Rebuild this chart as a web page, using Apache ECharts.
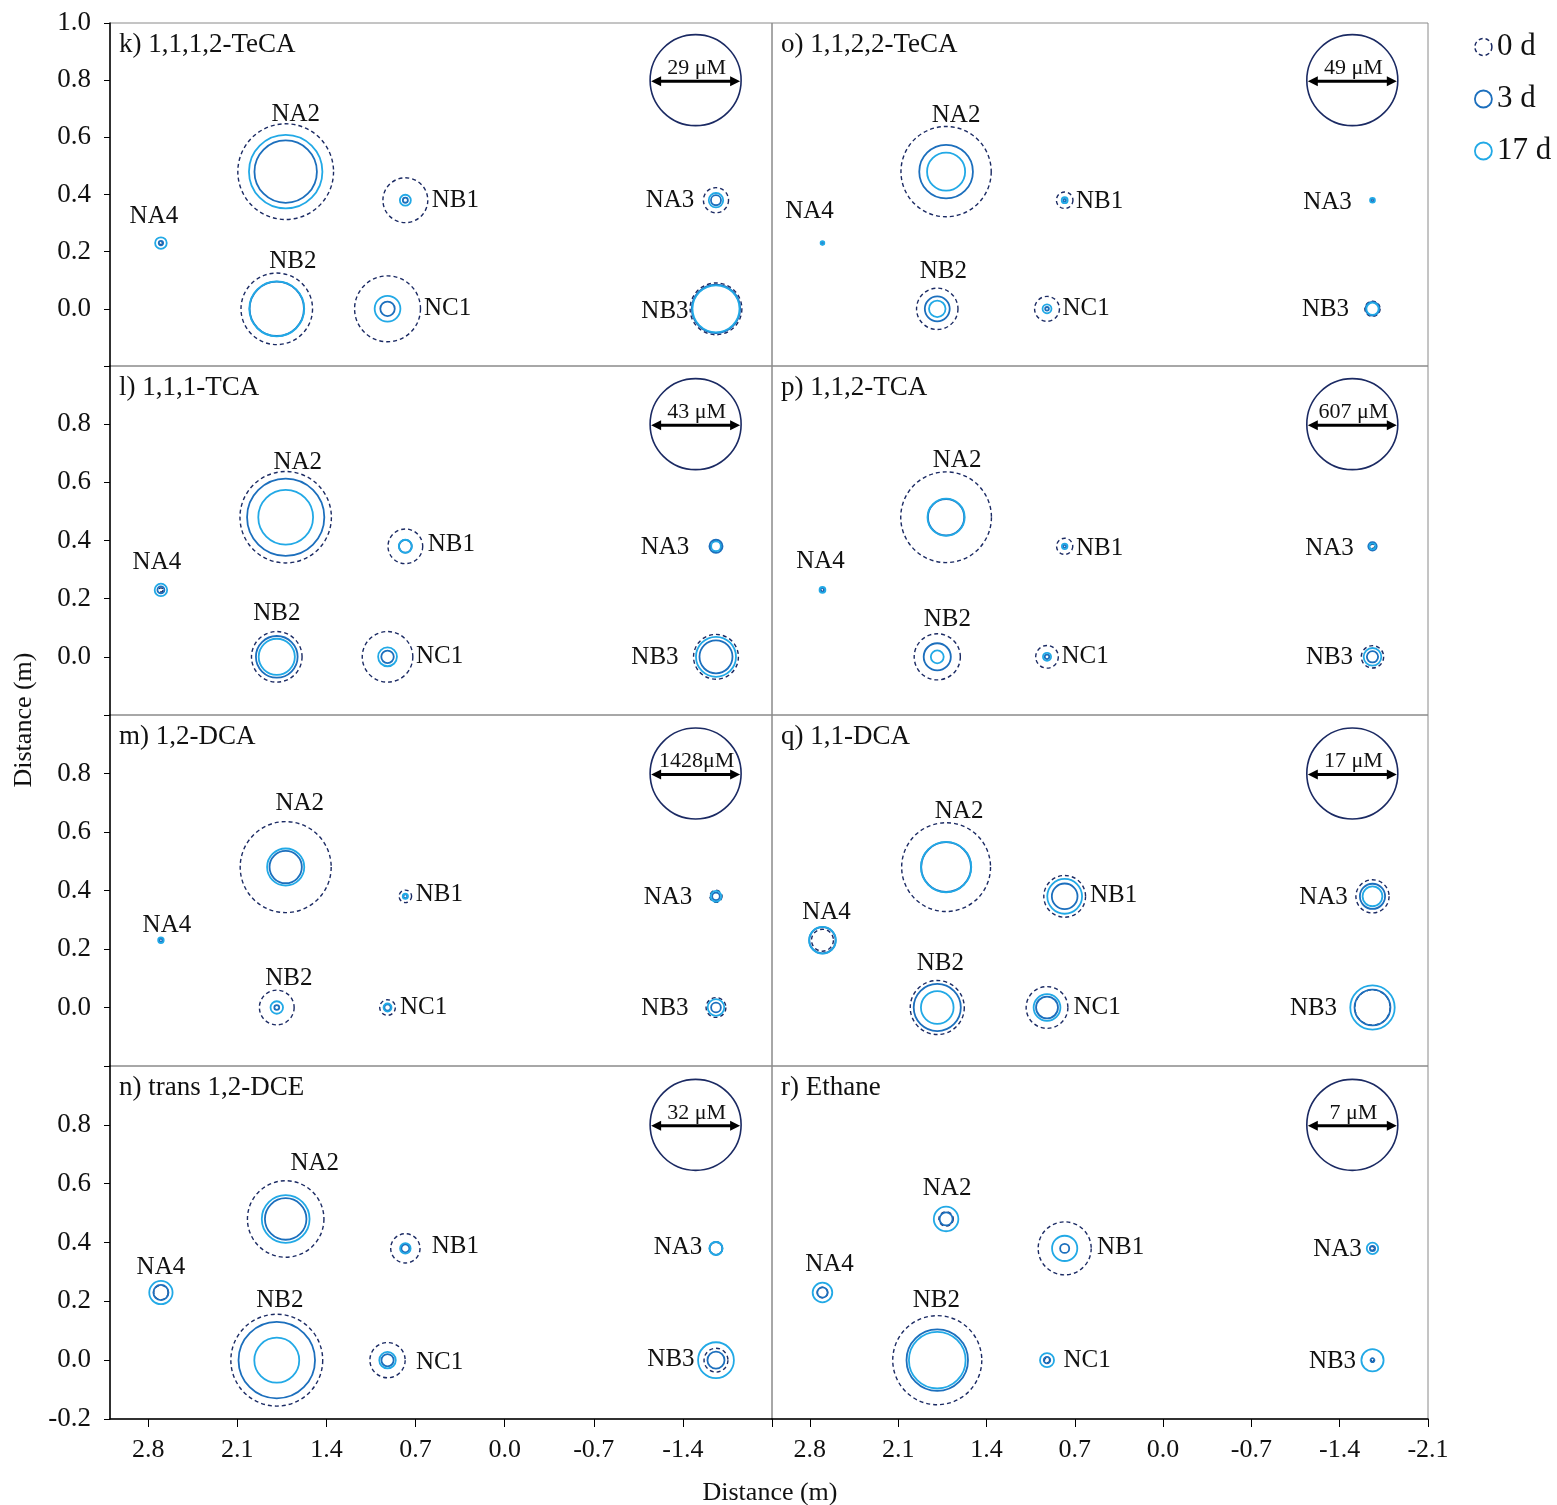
<!DOCTYPE html>
<html>
<head>
<meta charset="utf-8">
<script src="https://cdn.jsdelivr.net/npm/echarts@6/dist/echarts.min.js"></script>
<style>
  html, body { margin: 0; padding: 0; background: #fff; }
  #chart { width: 1557px; height: 1505px; }
</style>
</head>
<body>
<div id="chart"></div>
<script>
// Sampling wells and their plan-view coordinates (m)
const sites = ['NA4', 'NA2', 'NB1', 'NB2', 'NC1', 'NA3', 'NB3'];
const siteX = [2.70, 1.72, 0.78, 1.79, 0.92, -1.66, -1.66];
const siteY = [0.23, 0.48, 0.38, 0.00, 0.00, 0.38, 0.00];

const days = ['0 d', '3 d', '17 d'];
const panelTitles = ['k) 1,1,1,2-TeCA', 'o) 1,1,2,2-TeCA', 'l) 1,1,1-TCA', 'p) 1,1,2-TCA',
                     'm) 1,2-DCA', 'q) 1,1-DCA', 'n) trans 1,2-DCE', 'r) Ethane'];
// Reference bubble concentration per panel (μM)
const scaleConc = [29, 49, 43, 607, 1428, 17, 32, 7];
const scaleAt = [-1.5, 0.8];

const xTicks = [2.8, 2.1, 1.4, 0.7, 0.0, -0.7, -1.4, -2.1];

// Concentrations (μM), site order: NA4, NA2, NB1, NB2, NC1, NA3, NB3
const k0d  = [1.0, 30.5, 14.3, 22.8, 21.0, 8.0, 16.5];
const k3d  = [1.4, 19.9, 1.6, 17.3, 4.6, 3.2, 15.4];
const k17d = [3.7, 23.4, 3.5, 17.5, 8.2, 4.6, 15.0];

const o0d  = [1.5, 48.6, 8.9, 22.3, 13.4, 1.2, 8.2];
const o3d  = [1.4, 28.9, 1.5, 13.4, 2.0, 1.6, 7.4];
const o17d = [2.0, 20.5, 3.2, 8.9, 4.8, 2.6, 6.6];

const l0d  = [2.0, 43.2, 16.4, 23.9, 23.9, 5.0, 21.2];
const l3d  = [3.3, 36.5, 6.0, 19.7, 5.9, 6.2, 15.6];
const l17d = [5.9, 25.9, 6.2, 17.1, 8.9, 4.6, 18.9];

const p0d  = [20, 605, 108, 308, 151, 30, 149];
const p3d  = [25, 242, 20, 181, 30, 56, 75];
const p17d = [39, 248, 37, 86, 54, 40, 118];

const m0d  = [60, 1428, 196, 545, 245, 190, 311];
const m3d  = [50, 507, 60, 76, 100, 120, 153];
const m17d = [87, 583, 82, 196, 125, 170, 260];

const q0d  = [4.1, 16.6, 7.8, 10.1, 7.8, 6.2, 6.6];
const q3d  = [4.9, 9.3, 4.8, 8.8, 4.1, 4.7, 6.7];
const q17d = [5.0, 9.4, 6.5, 6.1, 5.0, 3.7, 8.3];

const n0d  = [5.1, 26.9, 10.3, 32.3, 12.4, 4.5, 8.4];
const n3d  = [5.3, 14.6, 2.8, 26.9, 4.3, 4.5, 6.0];
const n17d = [8.2, 16.8, 3.7, 15.8, 5.8, 4.6, 12.6];

const r0d  = [0.8, 1.1, 4.08, 6.85, 0.4, 0.3, 0.2];
const r3d  = [0.8, 1.0, 0.7, 4.73, 0.5, 0.4, 0.3];
const r17d = [1.51, 1.89, 1.94, 4.36, 1.08, 0.88, 1.71];

const panelData = [
  [k0d, k3d, k17d], [o0d, o3d, o17d], [l0d, l3d, l17d], [p0d, p3d, p17d],
  [m0d, m3d, m17d], [q0d, q3d, q17d], [n0d, n3d, n17d], [r0d, r3d, r17d]
];

// ---- layout ----
const colLeft = [110, 772], colWidth = [662, 656];
const rowTop = [23, 366, 715, 1066], rowHeight = [343, 349, 351, 353];
const SCALE_PX = 91;           // drawn diameter of the reference bubble
const FONT = '"Liberation Serif", "Times New Roman", serif';
const NAVY = '#1b2a63', BLUE = '#1c6fbd', CYAN = '#22a9e6';
const dayColor = [NAVY, BLUE, CYAN];
const dayWidth = [1.4, 1.8, 1.8];

// site-label offsets from the bubble centre (px), site order as above
const labelOffset = [
  [[-7, -27], [10, -57], [50, 0], [16, -47], [60, 0], [-46, 0], [-51, 3]],
  [[-13, -32], [10, -56], [35, 1], [6, -37], [39, 0], [-45, 2], [-47, 1]],
  [[-4, -28], [12, -55], [46, -2], [0, -43], [52, 0], [-51, 1], [-61, 1]],
  [[-2, -29], [11, -57], [35, 2], [10, -37], [38, 0], [-43, 2], [-43, 1]],
  [[6, -15], [14, -64], [34, -2], [12, -29], [36, 0], [-48, 1], [-51, 1]],
  [[4, -28], [13, -56], [49, -1], [3, -44], [50, 0], [-49, 1], [-59, 1]],
  [[0, -25], [29, -56], [50, -2], [3, -60], [52, 2], [-38, -1], [-45, -1]],
  [[7, -28], [1, -31], [56, -1], [-1, -60], [40, 0], [-35, 1], [-40, 1]]
];

const grids = [], xAxes = [], yAxes = [], series = [], titles = [];

panelData.forEach((vals, i) => {
  const row = Math.floor(i / 2), col = i % 2;
  const ref = scaleConc[i];
  const diam = v => SCALE_PX * v / ref;

  grids.push({
    left: colLeft[col], top: rowTop[row], width: colWidth[col], height: rowHeight[row],
    show: true, borderColor: '#8a8a8a', borderWidth: 1, containLabel: false
  });

  xAxes.push({
    gridIndex: i, type: 'value', inverse: true, min: -2.1, max: 3.1, interval: 0.7,
    show: row === 3,
    axisLine: { show: true, onZero: false, lineStyle: { color: '#000', width: 1.5 } },
    axisTick: { show: true, length: 8, customValues: xTicks, lineStyle: { color: '#000', width: 1 } },
    axisLabel: {
      customValues: col === 0 ? xTicks.slice(0, 7) : xTicks,
      formatter: v => (Math.round(v * 10) / 10).toFixed(1),
      margin: 18, fontFamily: FONT, fontSize: 26, color: '#111'
    },
    splitLine: { show: false }
  });

  yAxes.push({
    gridIndex: i, type: 'value', min: -0.2, max: 1.0, interval: 0.2,
    show: col === 0,
    axisLine: { show: true, onZero: false, lineStyle: { color: '#000', width: 1.5 } },
    axisTick: { show: true, length: 6, lineStyle: { color: '#000', width: 1 } },
    axisLabel: {
      showMinLabel: true, showMaxLabel: true, margin: 19,
      fontFamily: FONT, fontSize: 27, color: '#111',
      formatter: v => {
        const t = Math.round(v * 10) / 10;
        if (t === 1 && row !== 0) return '';
        if (t === -0.2 && row !== 3) return '';
        return t.toFixed(1);
      }
    },
    splitLine: { show: false }
  });

  titles.push({
    text: panelTitles[i], left: colLeft[col] + 9, top: rowTop[row] + 8, padding: 0,
    textStyle: { fontFamily: FONT, fontSize: 27, fontWeight: 'normal', color: '#111' }
  });

  // bubbles for each sampling day
  vals.forEach((arr, d) => {
    series.push({
      type: 'scatter', name: days[d], xAxisIndex: i, yAxisIndex: i,
      data: sites.map((s, j) => [siteX[j], siteY[j], arr[j]]),
      symbol: 'circle',
      symbolSize: v => diam(v[2]),
      itemStyle: {
        color: 'rgba(0,0,0,0)', borderColor: dayColor[d], borderWidth: dayWidth[d],
        borderType: d === 0 ? [4, 3] : 'solid', opacity: 1
      },
      silent: true, animation: false, z: 2 + d
    });
  });

  // reference bubble with double-headed arrow
  series.push({
    type: 'custom', xAxisIndex: i, yAxisIndex: i, silent: true, animation: false, z: 5,
    data: [[scaleAt[0], scaleAt[1], ref]],
    renderItem: (params, api) => {
      const c = api.coord([api.value(0), api.value(1)]);
      const v = api.value(2);
      const r = diam(v) / 2;
      const ay = c[1] + 1, ah = 10, aw = 5;
      const xl = c[0] - r + 1, xr = c[0] + r - 1;
      const txt = (v >= 1000 ? v + 'μM' : v + ' μM');
      return {
        type: 'group',
        children: [
          { type: 'circle', shape: { cx: c[0], cy: c[1], r: r }, style: { fill: 'none', stroke: NAVY, lineWidth: 1.6 } },
          { type: 'line', shape: { x1: xl + ah - 1, y1: ay, x2: xr - ah + 1, y2: ay }, style: { stroke: '#000', lineWidth: 3 } },
          { type: 'polygon', shape: { points: [[xl, ay], [xl + ah, ay - aw], [xl + ah, ay + aw]] }, style: { fill: '#000' } },
          { type: 'polygon', shape: { points: [[xr, ay], [xr - ah, ay - aw], [xr - ah, ay + aw]] }, style: { fill: '#000' } },
          { type: 'text', x: c[0] + 1, y: ay - 2,
            style: { text: txt, font: '22px ' + FONT, fill: '#111', align: 'center', verticalAlign: 'bottom' } }
        ]
      };
    }
  });

  // site names
  series.push({
    type: 'custom', xAxisIndex: i, yAxisIndex: i, silent: true, animation: false, z: 6,
    data: sites.map((s, j) => [siteX[j], siteY[j], j]),
    renderItem: (params, api) => {
      const c = api.coord([api.value(0), api.value(1)]);
      const j = api.value(2);
      const off = labelOffset[i][j];
      return {
        type: 'text', x: c[0] + off[0], y: c[1] + off[1],
        style: { text: sites[j], font: '25px ' + FONT, fill: '#111', align: 'center', verticalAlign: 'middle' }
      };
    }
  });
});

const chart = echarts.init(document.getElementById('chart'), null, { renderer: 'canvas' });
chart.setOption({
  backgroundColor: '#fff',
  animation: false,
  title: titles,
  grid: grids,
  xAxis: xAxes,
  yAxis: yAxes,
  legend: {
    data: [
      { name: '0 d', itemStyle: { borderType: [4, 3], borderWidth: 1.5 } },
      { name: '3 d', itemStyle: { borderWidth: 1.8 } },
      { name: '17 d', itemStyle: { borderWidth: 1.8 } }
    ],
    orient: 'vertical', left: 1474, top: 31, padding: 0,
    itemWidth: 17, itemHeight: 17, itemGap: 20, selectedMode: false,
    textStyle: { fontFamily: FONT, fontSize: 31, lineHeight: 32, color: '#111' }
  },
  graphic: [
    { type: 'text', x: 24, y: 720, rotation: Math.PI / 2,
      style: { text: 'Distance (m)', font: '26px ' + FONT, fill: '#111', align: 'center', verticalAlign: 'middle' } },
    { type: 'text', x: 770, y: 1493,
      style: { text: 'Distance (m)', font: '26px ' + FONT, fill: '#111', align: 'center', verticalAlign: 'middle' } }
  ],
  series: series
});
</script>
</body>
</html>
